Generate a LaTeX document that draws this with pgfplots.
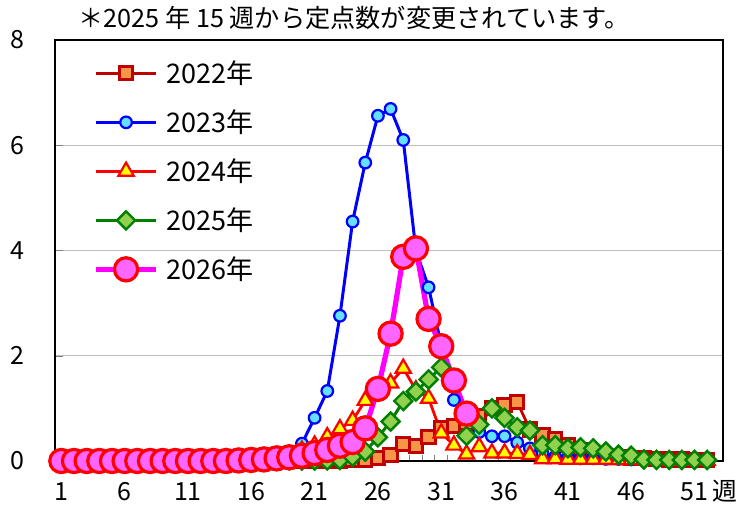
\documentclass[border=0pt]{standalone}
\usepackage{fontspec}
\setmainfont{Noto Sans CJK JP}
\usepackage{pgfplots}
\pgfplotsset{compat=1.18}

\definecolor{c22line}{RGB}{192,0,0}
\definecolor{c22fill}{RGB}{247,150,70}
\definecolor{c23line}{RGB}{0,0,255}
\definecolor{c23fill}{RGB}{100,225,255}
\definecolor{c24line}{RGB}{255,0,0}
\definecolor{c24fill}{RGB}{255,255,0}
\definecolor{c25line}{RGB}{0,128,0}
\definecolor{c25fill}{RGB}{146,208,80}
\definecolor{c26line}{RGB}{255,0,255}
\definecolor{c26fill}{RGB}{255,102,255}
\definecolor{gridc}{RGB}{190,190,190}

\begin{document}
\begin{tikzpicture}
\useasboundingbox (0,0) rectangle (375pt,256.5pt);
\node[anchor=west, inner sep=0pt, font=\fontsize{12.6}{14}\selectfont] at (39pt,247.5pt) {＊2025 年 15 週から定点数が変更されています。};
\begin{axis}[
  scale only axis, width=334pt, height=210.5pt,
  at={(27.5pt,26pt)}, anchor=south west,
  xmin=0.5, xmax=53.25, ymin=0, ymax=8,
  xtick={1,6,...,51}, minor xtick={1.5,2.5,...,52.5},
  ytick={0,2,4,6,8},
  ymajorgrids, grid style={gridc, line width=0.6pt},
  axis line style={line width=0.8pt},
  tick align=inside, tick pos=left,
  major tick length=4pt, minor tick length=3pt,
  major x tick style={draw=none},
  minor x tick style={line width=0.5pt},
  /pgf/number format/assume math mode=true,
  tick label style={font=\fontsize{12.5}{14}\selectfont},
  xticklabel style={anchor=base, yshift=-20pt},
  yticklabel style={anchor=east, inner sep=0pt, xshift=-15pt},
  clip=false,
  legend cell align=left,
  legend image code/.code={\draw[mark repeat=2,mark phase=2,#1] plot coordinates {(0pt,0pt) (15pt,0pt) (30pt,0pt)};},
  legend style={draw=none, fill=none, at={(rel axis cs:0.048,0.974)}, anchor=north west,
    font=\fontsize{13.5}{16}\selectfont, row sep=6.5pt,
    nodes={inner sep=2pt, text height=12pt, text depth=2pt},
    /tikz/every odd column/.append style={column sep=2pt}},
]
% 2022
\addplot[c22line, line width=1.4pt, mark=square*, mark size=3.3pt,
  mark options={fill=c22fill, draw=c22line, line width=1.5pt}] coordinates {
(1,0.00)(2,0.00)(3,0.00)(4,0.00)(5,0.00)(6,0.00)(7,0.00)(8,0.00)(9,0.00)(10,0.00)
(11,0.00)(12,0.00)(13,0.00)(14,0.00)(15,0.00)(16,0.00)(17,0.00)(18,0.00)(19,0.00)(20,0.00)
(21,0.00)(22,0.01)(23,0.01)(24,0.02)(25,0.03)(26,0.06)(27,0.11)(28,0.32)(29,0.28)(30,0.46)
(31,0.63)(32,0.66)(33,0.72)(34,0.85)(35,1.00)(36,1.07)(37,1.12)(38,0.60)(39,0.50)(40,0.42)
(41,0.30)(42,0.20)(43,0.14)(44,0.10)(45,0.08)(46,0.06)(47,0.05)(48,0.04)(49,0.03)(50,0.03)
(51,0.02)(52,0.02)};
\addlegendentry{2022年}
% 2023
\addplot[c23line, line width=1.5pt, mark=*, mark size=2.9pt,
  mark options={fill=c23fill, draw=c23line, line width=1.1pt}] coordinates {
(1,0.03)(2,0.03)(3,0.02)(4,0.02)(5,0.02)(6,0.02)(7,0.02)(8,0.02)(9,0.02)(10,0.02)
(11,0.02)(12,0.02)(13,0.02)(14,0.02)(15,0.03)(16,0.03)(17,0.04)(18,0.05)(19,0.08)(20,0.33)
(21,0.82)(22,1.33)(23,2.76)(24,4.55)(25,5.67)(26,6.56)(27,6.69)(28,6.10)(29,4.00)(30,3.30)
(31,2.20)(32,1.16)(33,0.80)(34,0.55)(35,0.47)(36,0.47)(37,0.35)(38,0.24)(39,0.14)(40,0.08)
(41,0.06)(42,0.05)(43,0.05)(44,0.04)(45,0.04)(46,0.03)(47,0.03)(48,0.03)(49,0.02)(50,0.02)
(51,0.02)(52,0.02)};
\addlegendentry{2023年}
% 2024
\addplot[c24line, line width=1.4pt, mark=triangle*, mark size=4.4pt,
  mark options={fill=c24fill, draw=c24line, line width=1.1pt}] coordinates {
(1,0.04)(2,0.04)(3,0.04)(4,0.04)(5,0.04)(6,0.04)(7,0.04)(8,0.04)(9,0.04)(10,0.04)
(11,0.04)(12,0.04)(13,0.04)(14,0.05)(15,0.05)(16,0.06)(17,0.07)(18,0.09)(19,0.12)(20,0.20)
(21,0.30)(22,0.46)(23,0.61)(24,0.77)(25,1.15)(26,1.35)(27,1.48)(28,1.76)(29,1.35)(30,1.19)
(31,0.53)(32,0.30)(33,0.13)(34,0.27)(35,0.15)(36,0.15)(37,0.14)(38,0.12)(39,0.04)(40,0.04)
(41,0.03)(42,0.03)(43,0.03)(44,0.03)(45,0.02)(46,0.02)(47,0.02)(48,0.01)(49,0.01)(50,0.01)
(51,0.01)(52,0.01)};
\addlegendentry{2024年}
% 2025
\addplot[c25line, line width=1.5pt, mark=square*, mark size=3.2pt,
  mark options={fill=c25fill, draw=c25line, line width=1.2pt, rotate=45}] coordinates {
(1,0.01)(2,0.01)(3,0.01)(4,0.01)(5,0.01)(6,0.01)(7,0.01)(8,0.01)(9,0.01)(10,0.01)
(11,0.01)(12,0.01)(13,0.01)(14,0.01)(15,0.01)(16,0.01)(17,0.01)(18,0.01)(19,0.01)(20,0.01)
(21,0.01)(22,0.01)(23,0.02)(24,0.08)(25,0.18)(26,0.45)(27,0.75)(28,1.14)(29,1.32)(30,1.55)
(31,1.78)(32,1.55)(33,0.48)(34,0.69)(35,1.00)(36,0.82)(37,0.64)(38,0.58)(39,0.30)(40,0.30)
(41,0.24)(42,0.26)(43,0.24)(44,0.18)(45,0.12)(46,0.10)(47,0.03)(48,0.02)(49,0.02)(50,0.02)
(51,0.02)(52,0.02)};
\addlegendentry{2025年}
% 2026
\addplot[c26line, line width=2.6pt, mark=*, mark size=5.8pt,
  mark options={fill=c26fill, draw=c24line, line width=1.6pt}] coordinates {
(1,0.00)(2,0.00)(3,0.00)(4,0.00)(5,0.00)(6,0.00)(7,0.00)(8,0.00)(9,0.00)(10,0.00)
(11,0.00)(12,0.00)(13,0.00)(14,0.00)(15,0.01)(16,0.02)(17,0.03)(18,0.05)(19,0.07)(20,0.10)
(21,0.15)(22,0.21)(23,0.29)(24,0.36)(25,0.62)(26,1.37)(27,2.42)(28,3.88)(29,4.04)(30,2.70)
(31,2.18)(32,1.53)(33,0.90)};
\addlegendentry{2026年}
\node[anchor=base, font=\fontsize{12.5}{14}\selectfont] at (axis cs:53.4,0) [yshift=-20pt] {週};
\end{axis}
\end{tikzpicture}
\end{document}
